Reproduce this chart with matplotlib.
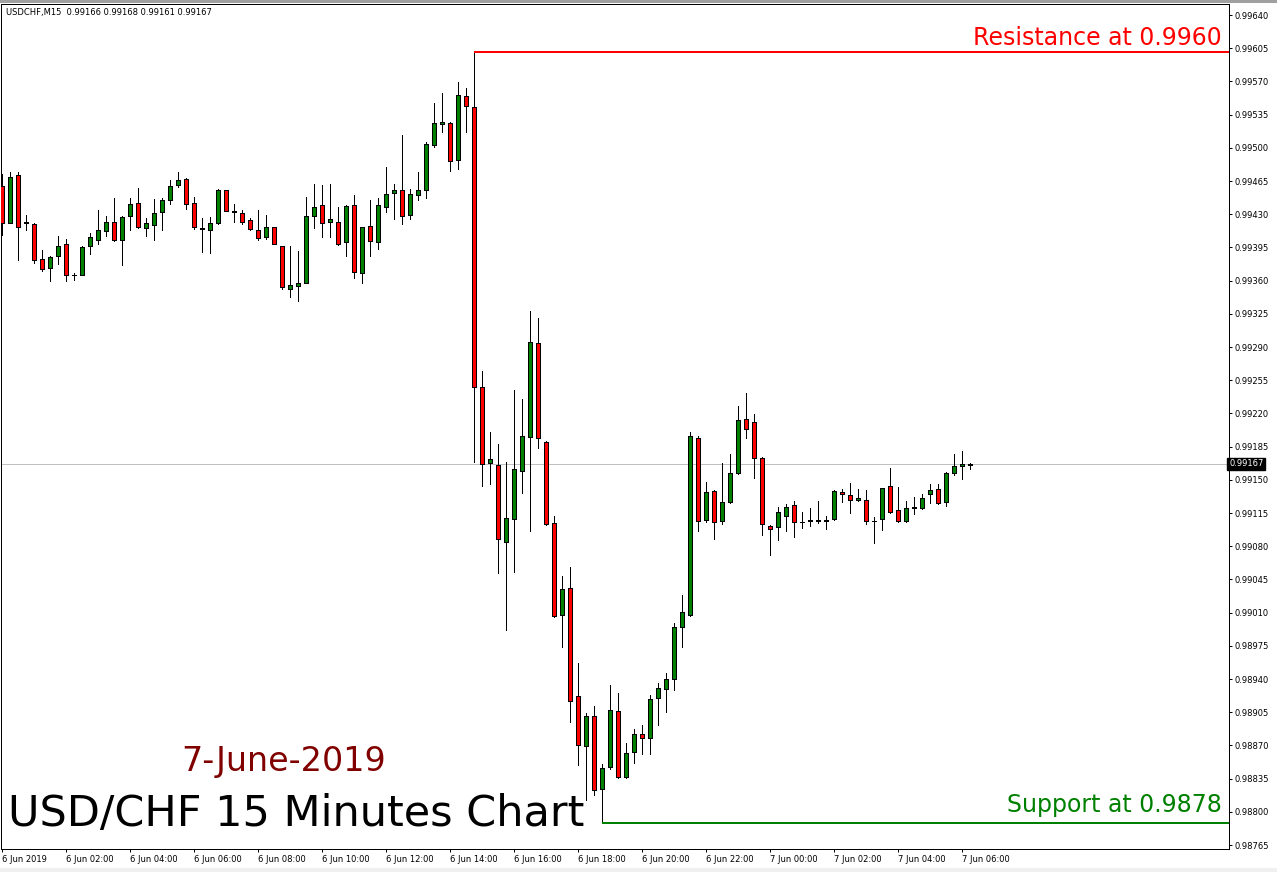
"""
USD/CHF 15 minute candles, 6-7 June 2019, with support and resistance lines.
"""

import matplotlib
matplotlib.use("Agg")
from matplotlib import pyplot as plt
from matplotlib.patches import Rectangle
from matplotlib.transforms import blended_transform_factory

header = "USDCHF,M15  0.99166 0.99168 0.99161 0.99167"

# OHLC of every M15 bar
opens = [0.99460, 0.99421, 0.99471, 0.99422, 0.99420, 0.99383, 0.99373, 0.99386,
         0.99399, 0.99366, 0.99366, 0.99396, 0.99403, 0.99412, 0.99422, 0.99403,
         0.99428, 0.99442, 0.99415, 0.99419, 0.99432, 0.99445, 0.99461, 0.99467,
         0.99442, 0.99415, 0.99413, 0.99421, 0.99456, 0.99433, 0.99431, 0.99424,
         0.99413, 0.99406, 0.99416, 0.99397, 0.99351, 0.99354, 0.99358, 0.99428,
         0.99440, 0.99422, 0.99422, 0.99401, 0.99440, 0.99368, 0.99418, 0.99401,
         0.99438, 0.99452, 0.99456, 0.99429, 0.99450, 0.99456, 0.99503, 0.99525,
         0.99526, 0.99487, 0.99555, 0.99543, 0.99248, 0.99168, 0.99166, 0.99084,
         0.99109, 0.99159, 0.99195, 0.99294, 0.99190, 0.99104, 0.99007, 0.99036,
         0.98922, 0.98869, 0.98901, 0.98824, 0.98847, 0.98906, 0.98837, 0.98863,
         0.98882, 0.98878, 0.98920, 0.98929, 0.98940, 0.98995, 0.99008, 0.99194,
         0.99108, 0.99138, 0.99107, 0.99127, 0.99157, 0.99214, 0.99211, 0.99173,
         0.99101, 0.99100, 0.99112, 0.99123, 0.99106, 0.99107, 0.99108, 0.99107,
         0.99109, 0.99137, 0.99134, 0.99129, 0.99129, 0.99107, 0.99109, 0.99143,
         0.99118, 0.99107, 0.99120, 0.99120, 0.99135, 0.99140, 0.99127, 0.99157,
         0.99165, 0.99166]
highs = [0.99472, 0.99474, 0.99474, 0.99429, 0.99421, 0.99392, 0.99386, 0.99407,
         0.99404, 0.99368, 0.99397, 0.99410, 0.99434, 0.99428, 0.99447, 0.99428,
         0.99447, 0.99458, 0.99426, 0.99446, 0.99447, 0.99466, 0.99474, 0.99468,
         0.99448, 0.99426, 0.99427, 0.99457, 0.99456, 0.99441, 0.99434, 0.99426,
         0.99434, 0.99429, 0.99417, 0.99397, 0.99396, 0.99391, 0.99448, 0.99462,
         0.99461, 0.99462, 0.99438, 0.99440, 0.99450, 0.99417, 0.99445, 0.99447,
         0.99480, 0.99462, 0.99513, 0.99457, 0.99474, 0.99506, 0.99547, 0.99558,
         0.99527, 0.99569, 0.99563, 0.99601, 0.99265, 0.99200, 0.99188, 0.99169,
         0.99245, 0.99235, 0.99328, 0.99321, 0.99191, 0.99112, 0.99049, 0.99058,
         0.98957, 0.98904, 0.98912, 0.98850, 0.98934, 0.98925, 0.98873, 0.98887,
         0.98892, 0.98923, 0.98936, 0.98946, 0.98999, 0.99029, 0.99200, 0.99196,
         0.99148, 0.99139, 0.99168, 0.99177, 0.99228, 0.99241, 0.99219, 0.99174,
         0.99102, 0.99121, 0.99124, 0.99128, 0.99116, 0.99120, 0.99128, 0.99112,
         0.99139, 0.99140, 0.99147, 0.99140, 0.99139, 0.99111, 0.99141, 0.99162,
         0.99142, 0.99128, 0.99132, 0.99135, 0.99146, 0.99146, 0.99158, 0.99177,
         0.99180, 0.99168]
lows = [0.99408, 0.99421, 0.99382, 0.99413, 0.99379, 0.99370, 0.99360, 0.99377,
        0.99360, 0.99361, 0.99366, 0.99388, 0.99399, 0.99407, 0.99402, 0.99376,
        0.99413, 0.99415, 0.99407, 0.99403, 0.99413, 0.99441, 0.99459, 0.99436,
        0.99414, 0.99390, 0.99389, 0.99420, 0.99433, 0.99422, 0.99420, 0.99413,
        0.99403, 0.99404, 0.99399, 0.99351, 0.99343, 0.99338, 0.99357, 0.99415,
        0.99406, 0.99406, 0.99398, 0.99386, 0.99363, 0.99357, 0.99386, 0.99393,
        0.99432, 0.99425, 0.99420, 0.99425, 0.99445, 0.99447, 0.99501, 0.99517,
        0.99476, 0.99478, 0.99517, 0.99169, 0.99143, 0.99146, 0.99052, 0.98992,
        0.99053, 0.99136, 0.99096, 0.99184, 0.99102, 0.99005, 0.98974, 0.98895,
        0.98849, 0.98812, 0.98818, 0.98788, 0.98845, 0.98836, 0.98836, 0.98851,
        0.98861, 0.98861, 0.98892, 0.98905, 0.98928, 0.98974, 0.99006, 0.99096,
        0.99105, 0.99088, 0.99103, 0.99126, 0.99156, 0.99194, 0.99152, 0.99092,
        0.99071, 0.99087, 0.99096, 0.99090, 0.99099, 0.99101, 0.99104, 0.99098,
        0.99108, 0.99127, 0.99115, 0.99128, 0.99103, 0.99083, 0.99097, 0.99115,
        0.99106, 0.99106, 0.99114, 0.99119, 0.99126, 0.99125, 0.99122, 0.99155,
        0.99151, 0.99161]
closes = [0.99421, 0.99469, 0.99416, 0.99421, 0.99382, 0.99372, 0.99385, 0.99396,
          0.99366, 0.99366, 0.99395, 0.99406, 0.99413, 0.99422, 0.99403, 0.99427,
          0.99441, 0.99416, 0.99421, 0.99431, 0.99445, 0.99460, 0.99466, 0.99441,
          0.99416, 0.99414, 0.99421, 0.99455, 0.99433, 0.99432, 0.99422, 0.99414,
          0.99405, 0.99417, 0.99399, 0.99353, 0.99355, 0.99357, 0.99428, 0.99438,
          0.99421, 0.99425, 0.99399, 0.99439, 0.99369, 0.99417, 0.99402, 0.99440,
          0.99451, 0.99455, 0.99428, 0.99451, 0.99455, 0.99504, 0.99526, 0.99527,
          0.99486, 0.99556, 0.99544, 0.99248, 0.99167, 0.99172, 0.99088, 0.99110,
          0.99161, 0.99196, 0.99295, 0.99194, 0.99103, 0.99006, 0.99035, 0.98917,
          0.98870, 0.98901, 0.98823, 0.98846, 0.98907, 0.98837, 0.98862, 0.98882,
          0.98878, 0.98919, 0.98930, 0.98940, 0.98995, 0.99011, 0.99196, 0.99107,
          0.99137, 0.99106, 0.99127, 0.99157, 0.99213, 0.99204, 0.99173, 0.99103,
          0.99098, 0.99116, 0.99121, 0.99106, 0.99106, 0.99108, 0.99107, 0.99108,
          0.99138, 0.99135, 0.99129, 0.99131, 0.99107, 0.99107, 0.99141, 0.99116,
          0.99107, 0.99120, 0.99121, 0.99131, 0.99139, 0.99126, 0.99157, 0.99165,
          0.99167, 0.99167]

# one time label every 8 bars (2 hours)
time_labels = ["6 Jun 2019", "6 Jun 02:00", "6 Jun 04:00", "6 Jun 06:00",
               "6 Jun 08:00", "6 Jun 10:00", "6 Jun 12:00", "6 Jun 14:00",
               "6 Jun 16:00", "6 Jun 18:00", "6 Jun 20:00", "6 Jun 22:00",
               "7 Jun 00:00", "7 Jun 02:00", "7 Jun 04:00", "7 Jun 06:00"]
bars_per_label = 8

price_ticks = [0.99640, 0.99605, 0.99570, 0.99535, 0.99500, 0.99465, 0.99430,
               0.99395, 0.99360, 0.99325, 0.99290, 0.99255, 0.99220, 0.99185,
               0.99150, 0.99115, 0.99080, 0.99045, 0.99010, 0.98975, 0.98940,
               0.98905, 0.98870, 0.98835, 0.98800, 0.98765]

resistance = 0.99601
resistance_bar = 59
support = 0.98788
support_bar = 75

W, H = 1277, 872
PX = 0.72  # one pixel in points at dpi 100


def px(x, y):
    """Pixel position (from top left) to figure fraction."""
    return x / W, 1 - y / H


def drawCandles(ax):
    for i, (o, h, l, c) in enumerate(zip(opens, highs, lows, closes)):
        ax.vlines(i, l, h, color="black", lw=PX, antialiased=False, zorder=2)
        color = "#008000" if c >= o else "#ff0000"
        ax.add_patch(Rectangle((i - 0.25, min(o, c)), 0.5, abs(c - o),
                               facecolor=color, edgecolor="black", lw=PX,
                               antialiased=False, zorder=3))


def main():
    fig = plt.figure(figsize=(W / 100, H / 100), dpi=100)
    fig.patch.set_facecolor("white")
    ax = fig.add_axes([1 / W, (H - 849) / H, 1228 / W, 845 / H])

    drawCandles(ax)
    ax.set_xlim(-0.125, 153.375)
    ax.set_ylim(0.987608, 0.996516)

    blend = blended_transform_factory(ax.transAxes, ax.transData)

    # bid line
    ax.axhline(closes[-1], color="#c0c0c0", lw=PX, zorder=1)
    ax.text(1.0, closes[-1], "0.99167", transform=blend, ha="left", va="center",
            color="white", fontsize=6,
            bbox=dict(facecolor="black", edgecolor="black", pad=1.2))

    # support / resistance
    xr = ax.get_xlim()[1]
    ax.hlines(resistance, resistance_bar, xr, color="#ff0000", lw=2 * PX, zorder=4)
    ax.hlines(support, support_bar, xr, color="#008000", lw=2 * PX, zorder=4)
    ax.annotate(f"Resistance at {resistance:.4f}", xy=(1.0, resistance), xycoords=blend,
                xytext=(-5.3, 4.7), textcoords="offset points",
                ha="right", va="baseline", color="#ff0000", fontsize=17)
    ax.annotate("Support at 0.9878", xy=(1.0, support), xycoords=blend,
                xytext=(-5.3, 8), textcoords="offset points",
                ha="right", va="baseline", color="#008000", fontsize=17)

    # axes look like MT4
    for s in ax.spines.values():
        s.set_color("black")
        s.set_linewidth(PX)
    ax.yaxis.tick_right()
    ax.set_yticks(price_ticks)
    ax.set_yticklabels([f"{p:.5f}" for p in price_ticks])
    ax.set_xticks([k * bars_per_label for k in range(len(time_labels))])
    ax.set_xticklabels(time_labels, ha="left")
    ax.tick_params(axis="both", length=3 * PX, width=PX, labelsize=6, colors="black")
    ax.tick_params(axis="y", pad=1.5)
    ax.tick_params(axis="x", pad=2)

    fig.text(*px(6, 12.5), header, fontsize=6, va="center", ha="left")
    fig.text(*px(181, 771), "7-June-2019", fontsize=24, color="#800000",
             ha="left", va="baseline")
    fig.text(*px(8, 826), "USD/CHF 15 Minutes Chart", fontsize=31, color="black",
             ha="left", va="baseline")

    # window border on top, gray strip at bottom
    fig.add_artist(Rectangle(px(0, 3), 1, 3 / H, transform=fig.transFigure,
                             facecolor="#a0a0a0", edgecolor="none"))
    fig.add_artist(Rectangle((0, 0), 1, 4 / H, transform=fig.transFigure,
                             facecolor="#f0f0f0", edgecolor="none"))

    fig.savefig("out.png", dpi=100)


if __name__ == "__main__":
    main()
